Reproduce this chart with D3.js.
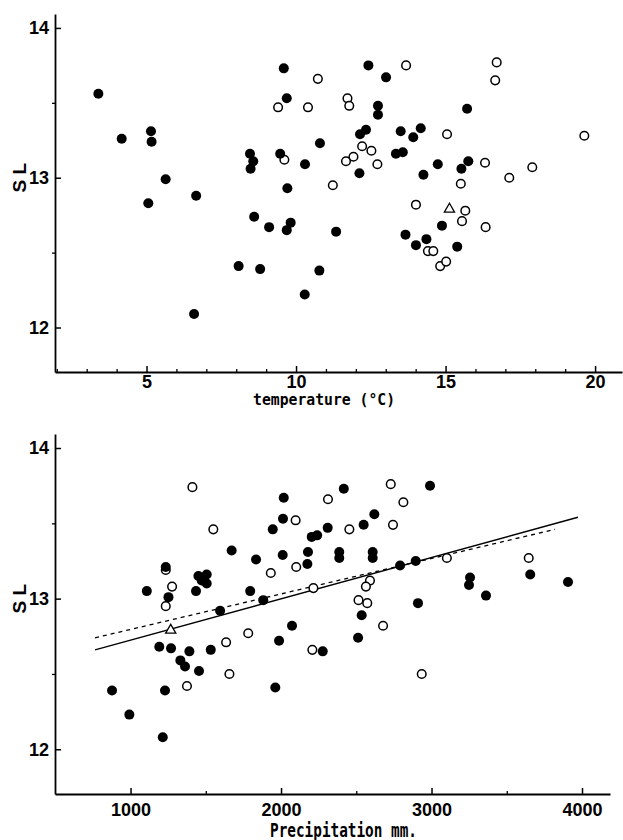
<!DOCTYPE html>
<html>
<head>
<meta charset="utf-8">
<script src="https://cdn.jsdelivr.net/npm/d3@7"></script>
<style>
  html, body { margin: 0; padding: 0; background: #fff; }
  svg { display: block; }
  .tick text { font-family: "Liberation Sans", Arial, sans-serif; font-weight: bold; font-size: 18px; fill: #000; }
</style>
</head>
<body>
<svg id="chart" width="623" height="840"></svg>
<script>
// ---------- DATA ----------
// Top panel: temperature (°C) vs SL
const tempFilled = [
  [3.39,13.56],[4.17,13.26],[5.15,13.31],[5.17,13.24],[5.64,12.99],[5.06,12.83],
  [6.66,12.88],[6.59,12.09],[9.59,13.73],[9.69,13.53],[8.46,13.16],[8.57,13.11],
  [8.48,13.06],[9.47,13.16],[10.30,13.09],[10.80,13.23],[9.71,12.93],[8.60,12.74],
  [9.10,12.67],[9.82,12.70],[9.69,12.65],[8.08,12.41],[8.80,12.39],[10.78,12.38],
  [10.29,12.22],[11.34,12.64],[12.42,13.75],[13.01,13.67],[12.74,13.48],[12.74,13.42],
  [15.72,13.46],[12.14,13.29],[12.34,13.32],[13.50,13.31],[14.17,13.33],[13.92,13.27],
  [13.34,13.16],[13.57,13.17],[12.12,13.03],[14.26,13.02],[14.74,13.09],[15.53,13.06],
  [15.76,13.11],[13.66,12.62],[14.01,12.55],[14.36,12.59],[14.88,12.68],[15.39,12.54]
];
const tempOpen = [
  [9.40,13.47],[10.40,13.47],[10.73,13.66],[9.61,13.12],[13.68,13.75],[16.71,13.77],
  [16.66,13.65],[11.72,13.53],[11.78,13.48],[15.05,13.29],[12.21,13.21],[12.52,13.18],
  [11.92,13.14],[11.67,13.11],[12.72,13.09],[11.23,12.95],[15.51,12.96],[16.32,13.10],
  [17.13,13.00],[17.90,13.07],[19.64,13.28],[14.01,12.82],[15.66,12.78],[15.55,12.71],
  [16.34,12.67],[14.41,12.51],[14.59,12.51],[14.82,12.41],[15.02,12.44]
];
const tempTriangle = [[15.13,12.79]];

// Bottom panel: precipitation (mm) vs SL
const precipFilled = [
  [2018,13.67],[2013,13.53],[1945,13.46],[2204,13.41],[2240,13.42],[1672,13.32],
  [1834,13.26],[2011,13.29],[2179,13.31],[2175,13.23],[1234,13.21],[1451,13.15],
  [1506,13.16],[1506,13.10],[1473,13.12],[1108,13.05],[1252,13.01],[1435,13.05],
  [1795,13.05],[1882,12.99],[1595,12.92],[2073,12.82],[2417,13.73],[2990,13.75],
  [2620,13.56],[2549,13.49],[2310,13.47],[2387,13.31],[2387,13.27],[2609,13.31],
  [2609,13.27],[2791,13.22],[2895,13.25],[3256,13.14],[3249,13.09],[3362,13.02],
  [3656,13.16],[3907,13.11],[2910,12.97],[2536,12.89],[1191,12.68],[1269,12.67],
  [1391,12.65],[1533,12.66],[1331,12.59],[1362,12.55],[1455,12.52],[877,12.39],
  [1229,12.39],[992,12.23],[1214,12.08],[1987,12.72],[1962,12.41],[2277,12.65],
  [2512,12.74]
];
const precipOpen = [
  [1411,13.74],[1550,13.46],[2097,13.52],[1932,13.17],[2101,13.21],[2215,13.07],
  [1234,13.19],[1276,13.08],[1234,12.95],[2729,13.76],[2813,13.64],[2312,13.66],
  [2454,13.46],[2744,13.49],[3102,13.27],[3646,13.27],[2591,13.12],[2564,13.08],
  [2515,12.99],[2573,12.97],[2678,12.82],[1635,12.71],[1782,12.77],[1657,12.50],
  [1375,12.42],[2208,12.66],[2935,12.50]
];
const precipTriangle = [[1267,12.79]];

// Regression lines (endpoints, data units)
const solidLine  = [[764,12.66],[3973,13.54]];
const dashedLine = [[764,12.74],[3821,13.46]];

// Tick values
const tempMajorTicks = [5,10,15,20];
const tempMinorTicks = [2,3,4,6,7,8,9,11,12,13,14,16,17,18,19];
const precipMajorTicks = [1000,2000,3000,4000];
const precipMinorTicks = [1500,2500,3500];
const slMajorTicks = [12,13,14];
const slMinorTicks = [12.5,13.5];

const yLabel = "S L";
const topXTitle = "temperature (°C)";
const bottomXTitle = "Precipitation mm.";

// ---------- DRAW ----------
const svg = d3.select("#chart");

function panel(cfg) {
  const g = svg.append("g");
  const x = cfg.x, y = cfg.y;
  const x0 = x.range()[0], yBase = y.range()[0];

  // minor x ticks
  g.append("g").attr("transform", `translate(0,${yBase})`)
    .call(d3.axisBottom(x).tickValues(cfg.xMinor).tickSizeInner(-3).tickSizeOuter(0).tickFormat(""))
    .call(a => a.select(".domain").remove())
    .call(a => a.selectAll("line").attr("stroke", "#000").attr("stroke-width", 1.3));
  // major x axis
  g.append("g").attr("transform", `translate(0,${yBase})`)
    .call(d3.axisBottom(x).tickValues(cfg.xMajor).tickSizeInner(-6).tickSizeOuter(0).tickPadding(cfg.xPad).tickFormat(d3.format("d")))
    .call(a => a.select(".domain").attr("stroke", "#000").attr("stroke-width", 1.8))
    .call(a => a.selectAll("line").attr("stroke", "#000").attr("stroke-width", 1.5))
    .call(a => a.selectAll("text").attr("font-family", null).attr("font-size", null));
  // minor y ticks
  g.append("g").attr("transform", `translate(${x0},0)`)
    .call(d3.axisLeft(y).tickValues(slMinorTicks).tickSizeInner(3).tickSizeOuter(0).tickFormat(""))
    .call(a => a.select(".domain").remove())
    .call(a => a.selectAll("line").attr("stroke", "#000").attr("stroke-width", 1.3));
  // major y axis
  g.append("g").attr("transform", `translate(${x0},0)`)
    .call(d3.axisLeft(y).tickValues(slMajorTicks).tickSizeInner(-6).tickSizeOuter(0).tickPadding(6).tickFormat(d3.format("d")))
    .call(a => a.select(".domain").attr("stroke", "#000").attr("stroke-width", 1.8))
    .call(a => a.selectAll("line").attr("stroke", "#000").attr("stroke-width", 1.5))
    .call(a => a.selectAll("text").attr("font-family", null).attr("font-size", null));

  // y label
  g.append("text")
    .attr("transform", `translate(${cfg.yLabelX},${y(13)}) rotate(-90)`)
    .attr("text-anchor", "middle")
    .attr("dy", "0.35em")
    .style("font-family", "'Liberation Sans', Arial, sans-serif")
    .style("font-weight", "bold")
    .style("font-size", "19px")
    .text(yLabel);

  // x title
  g.append("text")
    .attr("x", cfg.titleX).attr("y", cfg.titleY)
    .attr("textLength", cfg.titleLen)
    .attr("lengthAdjust", "spacingAndGlyphs")
    .style("font-family", "'DejaVu Sans Mono', monospace")
    .style("font-weight", "bold")
    .style("font-size", cfg.titleSize)
    .text(cfg.title);

  // lines
  const line = d3.line().x(d => x(d[0])).y(d => y(d[1]));
  if (cfg.solid) g.append("path").datum(cfg.solid).attr("d", line)
    .attr("stroke", "#000").attr("stroke-width", 1.4).attr("fill", "none");
  if (cfg.dashed) g.append("path").datum(cfg.dashed).attr("d", line)
    .attr("stroke", "#000").attr("stroke-width", 1.3).attr("fill", "none")
    .attr("stroke-dasharray", "4,4");

  // open circles
  g.append("g").selectAll("circle").data(cfg.open).join("circle")
    .attr("cx", d => x(d[0])).attr("cy", d => y(d[1])).attr("r", 4.3)
    .attr("fill", "#fff").attr("stroke", "#000").attr("stroke-width", 1.5);
  // filled circles
  g.append("g").selectAll("circle").data(cfg.filled).join("circle")
    .attr("cx", d => x(d[0])).attr("cy", d => y(d[1])).attr("r", 5)
    .attr("fill", "#000");
  // triangles
  g.append("g").selectAll("path").data(cfg.tri).join("path")
    .attr("transform", d => `translate(${x(d[0])},${y(d[1])})`)
    .attr("d", d3.symbol().type(d3.symbolTriangle).size(45))
    .attr("fill", "#fff").attr("stroke", "#000").attr("stroke-width", 1.3);
}

// top panel scales
const xTop = d3.scaleLinear().domain([1.94, 20.9]).range([55, 622]);
const yTop = d3.scaleLinear().domain([11.703, 14.093]).range([372, 14]);
panel({
  x: xTop, y: yTop, xMajor: tempMajorTicks, xMinor: tempMinorTicks, xPad: 3,
  yLabelX: 19, title: topXTitle, titleX: 253, titleY: 405, titleLen: 142, titleSize: "16px",
  filled: tempFilled, open: tempOpen, tri: tempTriangle
});

// bottom panel scales
const xBot = d3.scaleLinear().domain([498, 4186]).range([55, 610]);
const yBot = d3.scaleLinear().domain([11.703, 14.093]).range([794, 434]);
panel({
  x: xBot, y: yBot, xMajor: precipMajorTicks, xMinor: precipMinorTicks, xPad: 9,
  yLabelX: 19, title: bottomXTitle, titleX: 270, titleY: 837, titleLen: 147, titleSize: "19px",
  filled: precipFilled, open: precipOpen, tri: precipTriangle,
  solid: solidLine, dashed: dashedLine
});
</script>
</body>
</html>
